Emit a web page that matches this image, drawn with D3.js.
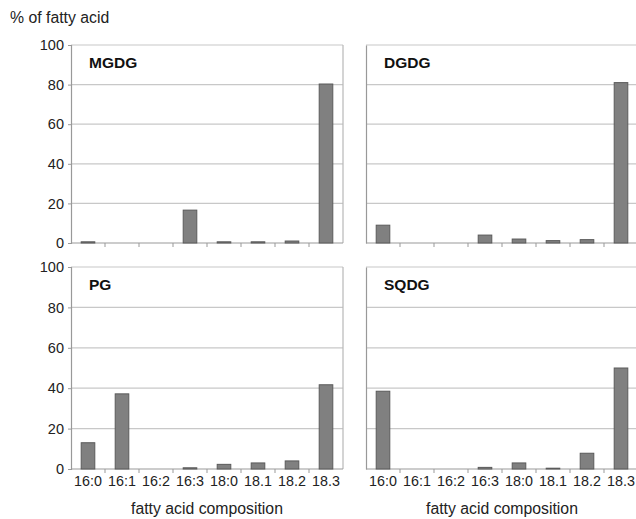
<!DOCTYPE html>
<html>
<head>
<meta charset="utf-8">
<script src="https://cdn.jsdelivr.net/npm/d3@7"></script>
<style>
  body { margin: 0; background: #fff; }
  svg { display: block; font-family: "Liberation Sans", Arial, sans-serif; }
</style>
</head>
<body>
<svg width="636" height="519"></svg>
<script>
// fatty acid categories (labels as printed)
let categories = ['16:0', '16:1', '16:2', '16:3', '18:0', '18.1', '18.2', '18.3'];
let yTicks = [0, 20, 40, 60, 80, 100];

let mgdg = [0.6, 0, 0, 16.6, 0.6, 0.6, 1.0, 80.3];
let dgdg = [9.0, 0, 0, 4.0, 2.0, 1.2, 1.7, 81.0];
let pg   = [13.0, 37.2, 0, 0.6, 2.3, 3.0, 4.0, 41.7];
let sqdg = [38.5, 0, 0, 0.8, 3.0, 0.4, 7.8, 50.0];

let panelNames = ['MGDG', 'DGDG', 'PG', 'SQDG'];
let panelValues = [mgdg, dgdg, pg, sqdg];

let svg = d3.select('svg');

/* panel frames: [left, right, top, bottom(zero line)] */
let frames = [
  [71, 343, 45, 243],
  [366, 638, 45, 243],
  [71, 343, 267, 469],
  [366, 638, 267, 469]
];

svg.append('text')
  .attr('x', 10).attr('y', 23)
  .attr('font-size', 15.8)
  .attr('fill', '#222')
  .text('% of fatty acid');

panelNames.forEach(function(name, i) {
  let f = frames[i];
  let x = d3.scaleBand().domain(categories).range([f[0], f[1]]).paddingInner(0.6).paddingOuter(0.3);
  let xb = d3.scaleBand().domain(categories).range([f[0], f[1]]);
  let y = d3.scaleLinear().domain([0, 100]).range([f[3], f[2]]);
  let g = svg.append('g');
  let showY = (i % 2 === 0);
  let showX = (i >= 2);

  // gridlines
  g.selectAll('line.grid').data(yTicks.slice(1)).enter().append('line')
    .attr('x1', f[0]).attr('x2', f[1])
    .attr('y1', function(d) { return y(d); })
    .attr('y2', function(d) { return y(d); })
    .attr('stroke', '#c8c8c8').attr('stroke-width', 1.2);

  // right frame
  g.append('line')
    .attr('x1', f[1]).attr('x2', f[1]).attr('y1', f[2]).attr('y2', f[3])
    .attr('stroke', '#b8b8b8').attr('stroke-width', 1.2);

  // y axis
  let yAxis = d3.axisLeft(y).tickValues(yTicks).tickSize(showY ? 3 : 0).tickFormat(showY ? d3.format('d') : '');
  let ya = g.append('g').attr('transform', 'translate(' + f[0] + ',0)').call(yAxis);
  ya.select('.domain').attr('stroke', '#999').attr('stroke-width', 1.2);
  ya.selectAll('.tick line').attr('stroke', '#999');
  ya.selectAll('.tick text').attr('font-size', 14.5).attr('fill', '#222').attr('x', -7).style('font-family', 'inherit');

  // x axis line with ticks between categories
  g.append('line')
    .attr('x1', f[0]).attr('x2', f[1]).attr('y1', f[3]).attr('y2', f[3])
    .attr('stroke', '#999').attr('stroke-width', 1.2);
  g.selectAll('line.xt').data(categories.slice(1)).enter().append('line')
    .attr('x1', function(d) { return xb(d); })
    .attr('x2', function(d) { return xb(d); })
    .attr('y1', f[3]).attr('y2', f[3] + 4)
    .attr('stroke', '#999');

  if (showX) {
    g.selectAll('text.xl').data(categories).enter().append('text')
      .attr('x', function(d) { return xb(d) + xb.bandwidth() / 2; })
      .attr('y', f[3] + 17)
      .attr('text-anchor', 'middle')
      .attr('font-size', 14.3)
      .attr('fill', '#222')
      .text(function(d) { return d; });
    g.append('text')
      .attr('x', (f[0] + f[1]) / 2).attr('y', f[3] + 45)
      .attr('text-anchor', 'middle')
      .attr('font-size', 15.8)
      .attr('fill', '#222')
      .text('fatty acid composition');
  }

  // bars (zero values draw nothing)
  let rows = categories.map(function(c, j) { return { cat: c, v: panelValues[i][j] }; })
    .filter(function(d) { return d.v > 0; });
  g.selectAll('rect').data(rows).enter().append('rect')
    .attr('x', function(d) { return x(d.cat); })
    .attr('y', function(d) { return y(d.v); })
    .attr('width', x.bandwidth())
    .attr('height', function(d) { return f[3] - y(d.v); })
    .attr('fill', '#808080')
    .attr('stroke', '#5a5a5a')
    .attr('stroke-width', 1);

  // panel label
  g.append('text')
    .attr('x', f[0] + 18).attr('y', f[2] + 23)
    .attr('font-size', 15.5)
    .attr('font-weight', 'bold')
    .attr('fill', '#111')
    .text(name);
});
</script>
</body>
</html>
